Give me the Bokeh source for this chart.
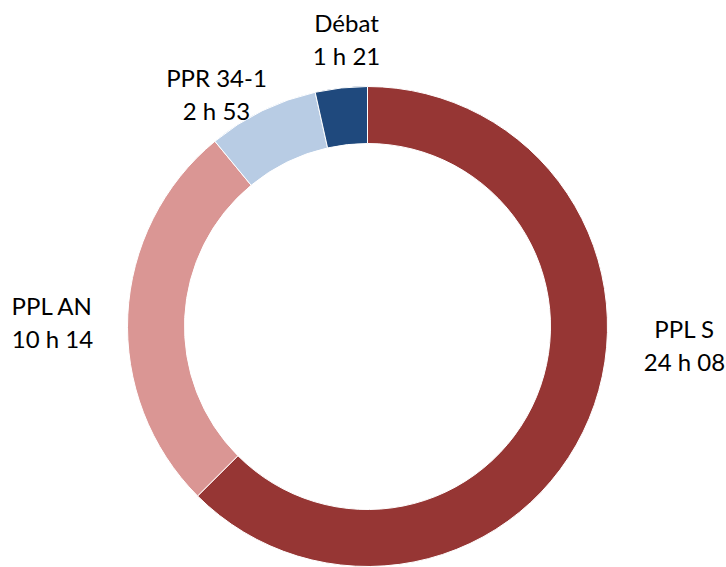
import math
from bokeh.plotting import figure
from bokeh.models import ColumnDataSource
from bokeh.core.properties import value
from bokeh.embed import file_html
from bokeh.resources import INLINE

# ---- data ----
categories = ["PPL S", "PPL AN", "PPR 34-1", "Débat"]
hours = [24, 10, 2, 1]
minutes = [8, 14, 53, 21]
colors = ["#963634", "#DA9694", "#B8CCE4", "#1F497D"]

# ---- layout (label placement, offsets from the ring centre, in px) ----
label_dx = [317, -315, -151, -21]
label_up = [-2, 21, 249, 304]   # first line, upward positive
line_gap = 33

W, H = 726, 567
cx, cy = 367, 241
r_out, r_in = 240, 183

totals = [h * 60 + m for h, m in zip(hours, minutes)]
grand = sum(totals)
starts, ends = [], []
acc = 0.0
for t in totals:
    starts.append(math.pi / 2 - 2 * math.pi * acc / grand)
    acc += t
    ends.append(math.pi / 2 - 2 * math.pi * acc / grand)

src = ColumnDataSource(dict(
    x=[cx] * len(categories), y=[cy] * len(categories),
    start=starts, end=ends, color=colors, cat=categories,
))

p = figure(width=W, height=H, x_range=(0, W), y_range=(0, H),
           output_backend="svg", toolbar_location=None, min_border=0)
p.axis.visible = False
p.grid.visible = False
p.outline_line_color = None
p.background_fill_color = "white"
p.border_fill_color = "white"

p.annular_wedge(x="x", y="y", inner_radius=r_in, outer_radius=r_out,
                start_angle="start", end_angle="end", direction="clock",
                fill_color="color", line_color="white", line_width=1, source=src)

durations = [f"{h} h {m:02d}" for h, m in zip(hours, minutes)]
lx = [cx + d for d in label_dx]
ly1 = [cy + d for d in label_up]
ly2 = [y - line_gap for y in ly1]
lsrc = ColumnDataSource(dict(x=lx, y1=ly1, y2=ly2, t1=categories, t2=durations))
for ycol, tcol in (("y1", "t1"), ("y2", "t2")):
    p.text(x="x", y=ycol, text=tcol, source=lsrc, text_font=value("Lato"),
           text_font_size="24px", text_color="#000000",
           text_align="center", text_baseline="middle")

open("out.html", "w").write(file_html(p, INLINE))
